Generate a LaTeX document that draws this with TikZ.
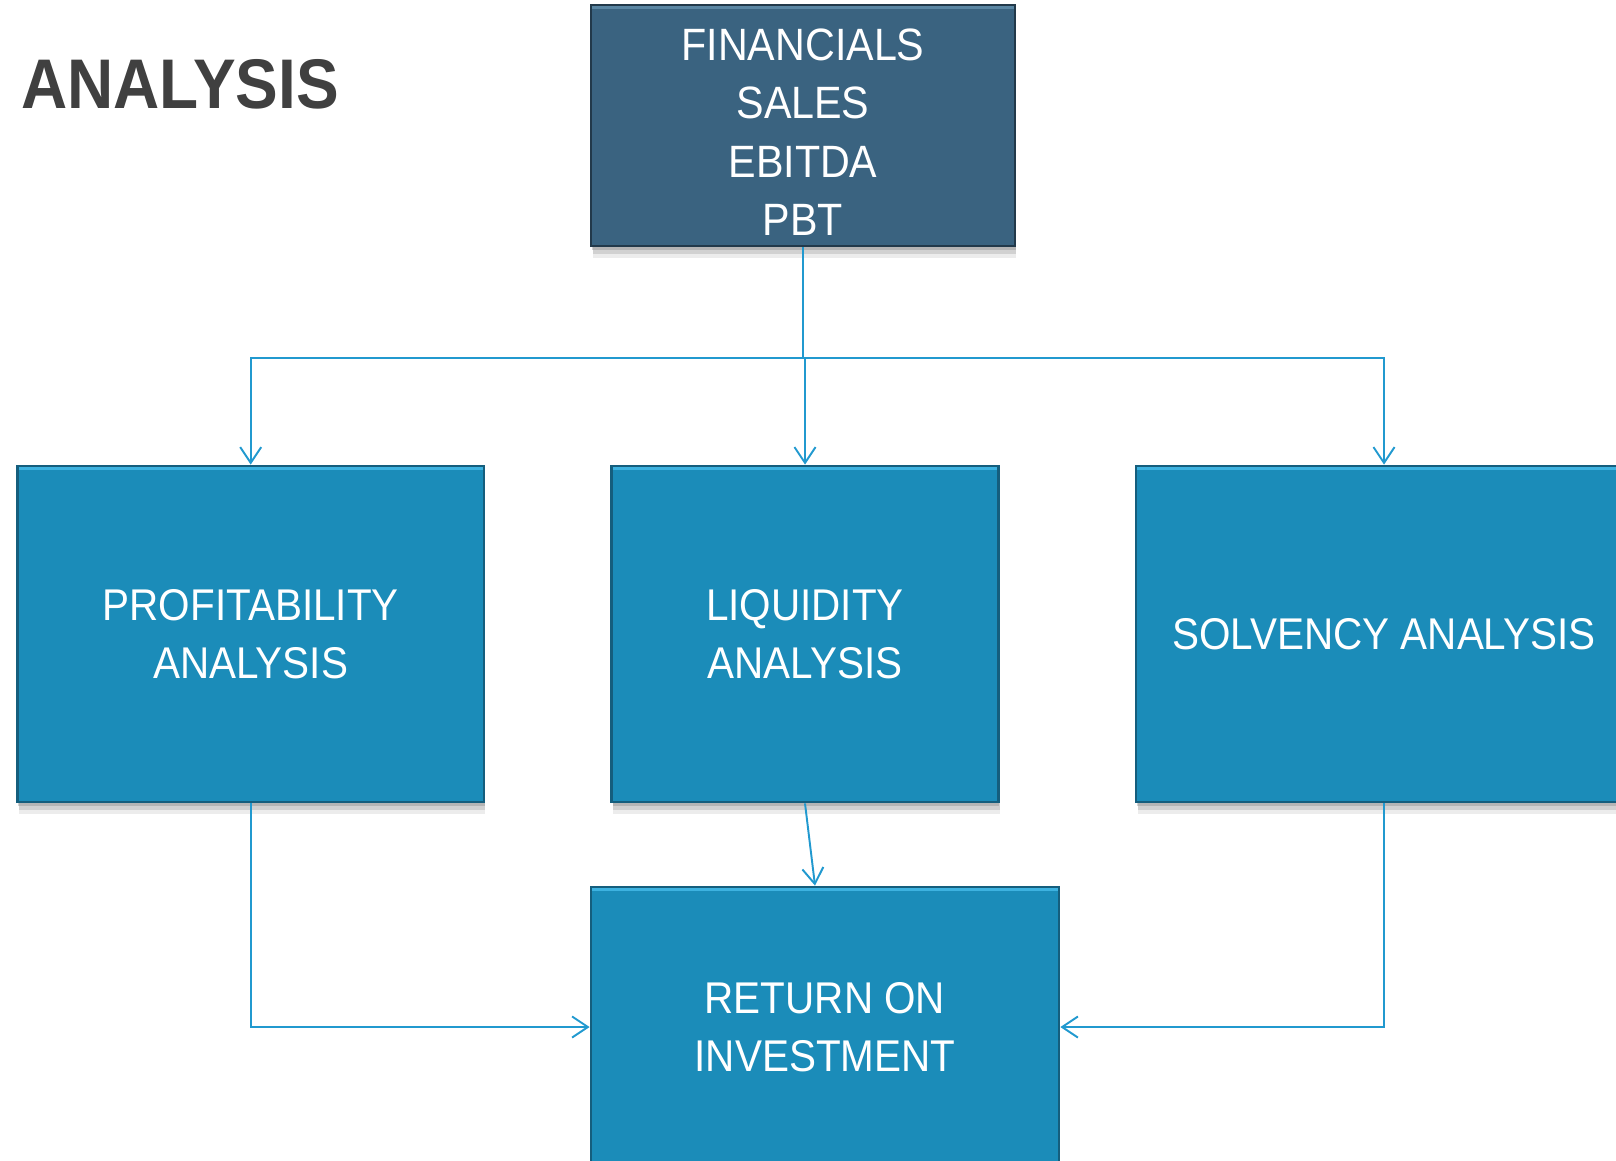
\documentclass[tikz,border=0pt]{standalone}
\usepackage{fontspec}
\setmainfont{Liberation Sans}[FakeStretch=0.91]
\usetikzlibrary{arrows.meta,shadows,positioning}
\definecolor{headfill}{HTML}{3A6380}
\definecolor{headdraw}{HTML}{22394A}
\definecolor{headlight}{HTML}{5A86A3}
\definecolor{boxfill}{HTML}{1B8CB9}
\definecolor{boxdraw}{HTML}{155E7D}
\definecolor{boxlight}{HTML}{3DB2E0}
\definecolor{flowline}{HTML}{2199CF}
\definecolor{titlegrey}{HTML}{404040}

\begin{document}
\begin{tikzpicture}[x=0.02cm,y=-0.02cm]
\tikzset{BOX/.style={draw=boxdraw,fill=boxfill,line width=1.6pt,rectangle,text=white,align=center,font=\fontsize{25.3}{33.2}\selectfont,
  drop shadow={shadow xshift=0.03cm,shadow yshift=-0.24cm,opacity=0.15},
  drop shadow={shadow xshift=0.03cm,shadow yshift=-0.17cm,opacity=0.25},
  drop shadow={shadow xshift=0.02cm,shadow yshift=-0.09cm,opacity=0.35},
  path picture={\fill[boxlight] ([yshift=-2.5pt]path picture bounding box.north west) rectangle (path picture bounding box.north east);}}}
\tikzset{HEAD BOX/.style={BOX,draw=headdraw,fill=headfill,font=\fontsize{25.8}{33.2}\selectfont,path picture={\fill[headlight] ([yshift=-2.5pt]path picture bounding box.north west) rectangle (path picture bounding box.north east);}}}
\tikzset{FLOW/.style={draw=flowline,line width=1.1pt,-{Straight Barb[length=9pt,width=12pt]}}}
\tikzset{TITLE/.style={text=titlegrey,inner sep=0pt,font=\bfseries\fontsize{40}{48}\selectfont}}

\useasboundingbox (0,0) rectangle (1616,1160);
\clip (0,0) rectangle (1616,1160);

\node[TITLE,anchor=base west] (title) at (21,108) {ANALYSIS};

\node[HEAD BOX,minimum width=8.48cm,minimum height=4.82cm] (financials) at (803,125.5) {\rule{0pt}{25.5pt}FINANCIALS\\SALES\\EBITDA\\PBT};

\node[BOX,minimum width=9.33cm,minimum height=6.72cm] (profitability) at (250.7,634) {PROFITABILITY\\ANALYSIS};
\node[BOX,minimum width=7.74cm,minimum height=6.72cm] (liquidity) at (805,634) {LIQUIDITY\\ANALYSIS};
\node[BOX,minimum width=9.92cm,minimum height=6.72cm] (solvency) at (1384,634) {SOLVENCY ANALYSIS};

\node[BOX,minimum width=9.36cm,minimum height=5.6cm] (roi) at (825,1027) {RETURN ON\\INVESTMENT};

\path [FLOW] (financials.south) -- +(0,111) -| (profitability.north);
\path [FLOW] (financials.south) -- +(0,111) -| (liquidity.north);
\path [FLOW] (financials.south) -- +(0,111) -| (solvency.north);

\path [FLOW] (liquidity.south) -- ([xshift=-0.2cm]roi.north);
\path [FLOW] (profitability.south) |- (roi.west);
\path [FLOW] (solvency.south) |- (roi.east);

\end{tikzpicture}
\end{document}
